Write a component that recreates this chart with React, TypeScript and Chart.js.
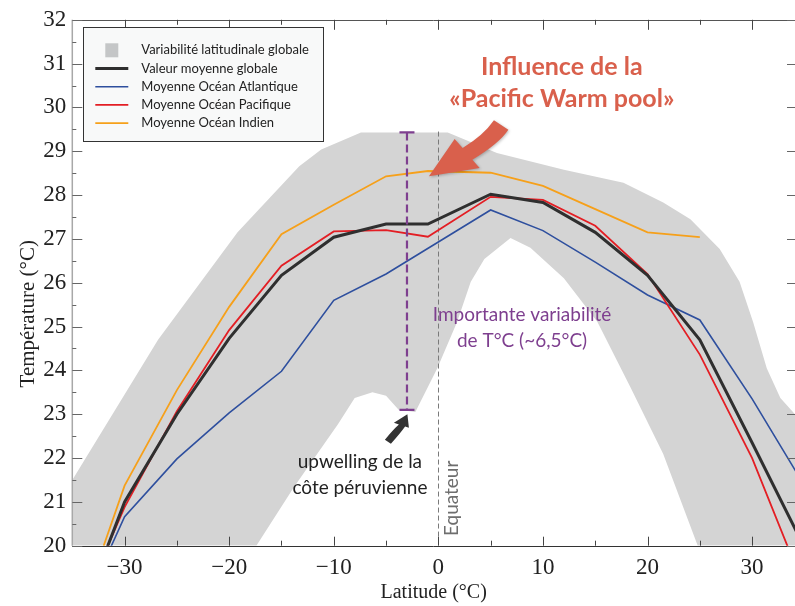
import React, { useEffect, useRef } from 'react';
import { Chart, registerables } from 'chart.js';

Chart.register(...registerables);

// ---------- data ----------
const LATITUDES = [-32, -30, -25, -20, -15, -10, -5, -1, 5, 10, 15, 20, 25, 30, 35];
const GLOBAL_MEAN = [19.75, 21.0, 23.0, 24.73, 26.17, 27.04, 27.34, 27.34, 28.02, 27.83, 27.15, 26.17, 24.7, 22.35, 19.96];
const ATLANTIC = [19.61, 20.66, 21.98, 23.03, 23.98, 25.6, 26.2, null, 27.66, 27.19, 26.47, 25.72, 25.15, 23.35, 21.37];
const PACIFIC = [19.78, 20.88, 23.07, 24.92, 26.39, 27.17, 27.2, 27.05, 27.96, 27.89, 27.3, 26.2, 24.36, 22.0, 19.03];
const INDIAN = [20.0, 21.37, 23.55, 25.45, 27.11, 27.78, 28.43, 28.55, 28.51, 28.21, 27.68, 27.15, 27.04, null, null];

const BAND_UPPER_LAT = [-36, -35, -26.8, -19.2, -13.3, -11.2, -7.4, 0.9, 5.6, 12.0, 17.7, 21.5, 24.1, 26.9, 28.8, 30.1, 31.4, 32.7, 34.1, 36];
const BAND_UPPER_T = [21.1, 21.5, 24.7, 27.15, 28.66, 29.04, 29.43, 29.43, 28.96, 28.58, 28.28, 27.83, 27.45, 26.77, 26.02, 25.1, 24.05, 23.37, 23.0, 22.7];
const BAND_LOWER_LAT = [-36, -17.4, -13.8, -9.6, -8.0, -6.3, -5.0, -3.8, -2.2, -0.1, 1.8, 3.1, 4.4, 6.9, 8.8, 12.0, 15.2, 18.4, 21.5, 24.8, 36];
const BAND_LOWER_T = [20, 20, 21.34, 22.77, 23.37, 23.5, 23.42, 23.1, 23.05, 24.05, 25.11, 26.02, 26.54, 27.02, 26.8, 26.1, 25.11, 23.6, 22.09, 20.0, 20];

const SERIES_LABELS = ['Valeur moyenne globale', 'Moyenne Océan Atlantique', 'Moyenne Océan Pacifique', 'Moyenne Océan Indien'];
const BAND_LABEL = 'Variabilité latitudinale globale';

const X_TICKS = [-30, -20, -10, 0, 10, 20, 30];
const Y_TICKS = [20, 21, 22, 23, 24, 25, 26, 27, 28, 29, 30, 31, 32];
const X_MIN = -35;
const X_MAX = 34.1;
const Y_MIN = 20;
const Y_MAX = 32;

const X_TITLE = 'Latitude (°C)';
const Y_TITLE = 'Température (°C)';

// annotations (data coordinates)
const WARM_POOL_LINES = ['Influence de la', '«Pacific Warm pool»'];
const WARM_POOL_POS = { lat: 11.8, t: [30.93, 30.2] };
const WARM_ARROW_TIP = { lat: -0.9, t: 28.43 };
const VAR_BAR = { lat: -3, top: 29.43, bottom: 23.1 };
const VAR_LINES = ['Importante variabilité', 'de T°C (~6,5°C)'];
const VAR_POS = { lat: 8.0, t: [25.27, 24.68] };
const UPW_LINES = ['upwelling de la', 'côte péruvienne'];
const UPW_POS = { lat: -7.5, t: [21.92, 21.33] };
const UPW_ARROW_TIP = { lat: -2.96, t: 23.0 };
const EQUATOR = { lat: 0, top: 29.45, label: 'Equateur', labelLat: 1.3, labelT: 21.08 };

const COLORS = {
  mean: '#2f2f2f',
  atl: '#2e4f9e',
  pac: '#e31e24',
  ind: '#f6a01a',
  band: '#d4d4d4',
  bandLegend: '#c4c6c7',
  warm: '#d9604c',
  purple: '#7e3f8f',
};

const fmtLat = (v: number) => (v < 0 ? '\u2212' + Math.abs(v) : String(v));
const pts = (xs: number[], ys: (number | null)[]) => xs.map((x, i) => ({ x, y: ys[i] }));

const SANS = 'Lato, "Noto Sans", sans-serif';
const SERIF = '"Liberation Serif", "DejaVu Serif", serif';

const drawArrow = (ctx: CanvasRenderingContext2D, tx: number, ty: number, p: number[][], color: string) => {
  // p: [wing1, join1, ctrl1, tail1, tail2, ctrl2, join2, wing2] offsets from tip
  ctx.beginPath();
  ctx.moveTo(tx, ty);
  ctx.lineTo(tx + p[0][0], ty + p[0][1]);
  ctx.lineTo(tx + p[1][0], ty + p[1][1]);
  ctx.quadraticCurveTo(tx + p[2][0], ty + p[2][1], tx + p[3][0], ty + p[3][1]);
  ctx.lineTo(tx + p[4][0], ty + p[4][1]);
  ctx.quadraticCurveTo(tx + p[5][0], ty + p[5][1], tx + p[6][0], ty + p[6][1]);
  ctx.lineTo(tx + p[7][0], ty + p[7][1]);
  ctx.closePath();
  ctx.fillStyle = color;
  ctx.fill();
};

const decorPlugin = {
  id: 'decor',
  afterDatasetDraw(chart: any, args: any) {
    if (args.index !== 0) return;
    const { ctx, scales: { x, y } } = chart;
    ctx.save();
    ctx.strokeStyle = '#7a7a7a';
    ctx.lineWidth = 1;
    ctx.setLineDash([5, 3]);
    const px = Math.round(x.getPixelForValue(EQUATOR.lat)) + 0.5;
    ctx.beginPath();
    ctx.moveTo(px, y.getPixelForValue(EQUATOR.top));
    ctx.lineTo(px, y.getPixelForValue(Y_MIN));
    ctx.stroke();
    ctx.restore();
  },
  afterDatasetsDraw(chart: any) {
    const { ctx, chartArea: a, scales: { x, y } } = chart;
    ctx.save();

    // frame
    ctx.setLineDash([]);
    ctx.lineWidth = 1;
    ctx.strokeStyle = '#555';
    ctx.beginPath();
    ctx.moveTo(a.left, Math.round(a.top) + 0.5);
    ctx.lineTo(a.right, Math.round(a.top) + 0.5);
    ctx.stroke();
    ctx.strokeStyle = '#333';
    ctx.beginPath();
    ctx.moveTo(a.left, Math.round(a.bottom) + 0.5);
    ctx.lineTo(a.right, Math.round(a.bottom) + 0.5);
    ctx.stroke();
    ctx.strokeStyle = '#a8a8a8';
    ctx.lineWidth = 1.5;
    ctx.beginPath();
    ctx.moveTo(a.left, a.top);
    ctx.lineTo(a.left, a.bottom);
    ctx.stroke();

    // inward ticks
    ctx.lineWidth = 1;
    ctx.strokeStyle = '#666';
    for (let v = Y_MIN; v <= Y_MAX; v += 0.5) {
      const py = Math.round(y.getPixelForValue(v)) + 0.5;
      const major = Number.isInteger(v);
      ctx.beginPath();
      ctx.moveTo(a.left, py);
      ctx.lineTo(a.left + (major ? 10 : 4), py);
      ctx.stroke();
      if (major) {
        ctx.beginPath();
        ctx.moveTo(a.right, py);
        ctx.lineTo(a.right - 8, py);
        ctx.stroke();
      }
    }
    ctx.strokeStyle = '#444';
    for (let v = -30; v <= 30; v += 5) {
      const px = Math.round(x.getPixelForValue(v)) + 0.5;
      const major = v % 10 === 0;
      ctx.beginPath();
      ctx.moveTo(px, a.bottom);
      ctx.lineTo(px, a.bottom - (major ? 9 : 5));
      ctx.stroke();
      ctx.beginPath();
      ctx.moveTo(px, a.top);
      ctx.lineTo(px, a.top + (major ? 10 : 5));
      ctx.stroke();
    }

    // purple variability bar
    const bx = x.getPixelForValue(VAR_BAR.lat);
    const bt = y.getPixelForValue(VAR_BAR.top);
    const bb = y.getPixelForValue(VAR_BAR.bottom);
    ctx.strokeStyle = COLORS.purple;
    ctx.lineWidth = 2.2;
    ctx.setLineDash([8, 4]);
    ctx.beginPath();
    ctx.moveTo(bx, bt);
    ctx.lineTo(bx, bb);
    ctx.stroke();
    ctx.setLineDash([]);
    ctx.beginPath();
    ctx.moveTo(bx - 7.5, bt);
    ctx.lineTo(bx + 7.5, bt);
    ctx.moveTo(bx - 7.5, bb);
    ctx.lineTo(bx + 7.5, bb);
    ctx.stroke();

    // big red arrow
    const wx = x.getPixelForValue(WARM_ARROW_TIP.lat);
    const wy = y.getPixelForValue(WARM_ARROW_TIP.t);
    ctx.save();
    ctx.shadowColor = 'rgba(0,0,0,0.25)';
    ctx.shadowBlur = 3;
    ctx.shadowOffsetX = 1;
    ctx.shadowOffsetY = 1;
    drawArrow(ctx, wx, wy, [[25.7, -37.3], [33.7, -28.3], [54.6, -40.9], [65, -56], [79.4, -46.6], [70.5, -33], [43.4, -16.6], [50.7, -8.3]], COLORS.warm);
    ctx.restore();

    // small dark arrow
    const ux = x.getPixelForValue(UPW_ARROW_TIP.lat);
    const uy = y.getPixelForValue(UPW_ARROW_TIP.t);
    drawArrow(ctx, ux, uy, [[-13.5, 8.5], [-8.5, 10.2], [-15, 16], [-22.5, 25.5], [-16.5, 29.5], [-7, 19], [-2.3, 12.3], [1.5, 13.5]], '#333');

    // texts
    ctx.textAlign = 'center';
    ctx.textBaseline = 'middle';
    ctx.fillStyle = COLORS.warm;
    ctx.font = `bold 25px ${SANS}`;
    WARM_POOL_LINES.forEach((s, i) => ctx.fillText(s, x.getPixelForValue(WARM_POOL_POS.lat), y.getPixelForValue(WARM_POOL_POS.t[i])));

    ctx.fillStyle = COLORS.purple;
    ctx.font = `19px ${SANS}`;
    VAR_LINES.forEach((s, i) => ctx.fillText(s, x.getPixelForValue(VAR_POS.lat), y.getPixelForValue(VAR_POS.t[i])));

    ctx.fillStyle = '#222';
    ctx.font = `19px ${SANS}`;
    UPW_LINES.forEach((s, i) => ctx.fillText(s, x.getPixelForValue(UPW_POS.lat), y.getPixelForValue(UPW_POS.t[i])));

    ctx.save();
    ctx.translate(x.getPixelForValue(EQUATOR.labelLat), y.getPixelForValue(EQUATOR.labelT));
    ctx.rotate(-Math.PI / 2);
    ctx.fillStyle = '#6e6e6e';
    ctx.font = `19px ${SANS}`;
    ctx.fillText(EQUATOR.label, 0, 0);
    ctx.restore();

    // y title
    ctx.save();
    ctx.translate(28, (a.top + a.bottom) / 2 + 31);
    ctx.rotate(-Math.PI / 2);
    ctx.fillStyle = '#222';
    ctx.font = `21px ${SERIF}`;
    ctx.fillText(Y_TITLE, 0, 0);
    ctx.restore();

    ctx.restore();
  },
  afterDraw(chart: any) {
    const { ctx, chartArea: a } = chart;
    const left = a.left + 11;
    const top = a.top + 7.5;
    const w = 240;
    const h = 114;
    ctx.save();
    ctx.fillStyle = '#f8f9f9';
    ctx.fillRect(left, top, w, h);
    ctx.strokeStyle = '#333';
    ctx.lineWidth = 1;
    ctx.strokeRect(Math.round(left) + 0.5, Math.round(top) + 0.5, w, h);
    ctx.font = `13px ${SANS}`;
    ctx.textAlign = 'left';
    ctx.textBaseline = 'middle';
    const items = chart.data.datasets.filter((d: any) => d.label);
    items.forEach((d: any, i: number) => {
      const ry = top + 23 + i * 18.2;
      if (d.isBand) {
        ctx.fillStyle = COLORS.bandLegend;
        ctx.fillRect(left + 22, ry - 7, 13, 14);
      } else {
        ctx.strokeStyle = d.borderColor;
        ctx.lineWidth = d.borderWidth;
        ctx.beginPath();
        ctx.moveTo(left + 12, ry);
        ctx.lineTo(left + 45, ry);
        ctx.stroke();
      }
      ctx.fillStyle = '#222';
      ctx.fillText(d.label, left + 58, ry);
    });
    ctx.restore();
  },
};

export default function App() {
  const ref = useRef<HTMLCanvasElement | null>(null);
  useEffect(() => {
    if (!ref.current) return;
    const chart = new Chart(ref.current, {
      type: 'line',
      data: {
        datasets: [
          {
            label: BAND_LABEL,
            isBand: true,
            data: pts(BAND_UPPER_LAT, BAND_UPPER_T),
            borderWidth: 0,
            borderColor: 'rgba(0,0,0,0)',
            backgroundColor: COLORS.band,
            fill: 5,
            pointRadius: 0,
            order: 10,
            clip: 0,
          } as any,
          { label: SERIES_LABELS[0], data: pts(LATITUDES, GLOBAL_MEAN), borderColor: COLORS.mean, borderWidth: 3, pointRadius: 0, order: 0, clip: 0, fill: false },
          { label: SERIES_LABELS[1], data: pts(LATITUDES, ATLANTIC), borderColor: COLORS.atl, borderWidth: 1.6, pointRadius: 0, order: 3, spanGaps: true, clip: 0, fill: false },
          { label: SERIES_LABELS[2], data: pts(LATITUDES, PACIFIC), borderColor: COLORS.pac, borderWidth: 1.8, pointRadius: 0, order: 1, clip: 0, fill: false },
          { label: SERIES_LABELS[3], data: pts(LATITUDES, INDIAN), borderColor: COLORS.ind, borderWidth: 1.8, pointRadius: 0, order: 2, clip: 0, fill: false },
          {
            data: pts(BAND_LOWER_LAT, BAND_LOWER_T),
            borderWidth: 0,
            borderColor: 'rgba(0,0,0,0)',
            pointRadius: 0,
            order: 9,
            clip: 0,
            fill: false,
          },
        ],
      },
      options: {
        responsive: false,
        animation: false,
        devicePixelRatio: 1,
        layout: { padding: { top: 15.8, right: 0, left: 0, bottom: 0 } },
        plugins: { legend: { display: false }, tooltip: { enabled: false } },
        elements: { line: { tension: 0 }, point: { radius: 0 } },
        scales: {
          x: {
            type: 'linear',
            min: X_MIN,
            max: X_MAX,
            grid: { display: false, drawTicks: false },
            border: { display: false },
            afterBuildTicks: (s: any) => { s.ticks = X_TICKS.map((v) => ({ value: v })); },
            afterFit: (s: any) => { s.height = 60.3; },
            ticks: {
              autoSkip: false,
              maxRotation: 0,
              padding: 8,
              color: '#222',
              font: { family: SERIF, size: 23 },
              callback: (v: any) => fmtLat(Number(v)),
            },
            title: { display: true, text: X_TITLE, color: '#222', font: { family: SERIF, size: 20 }, padding: { top: 0, bottom: 1 } },
          },
          y: {
            type: 'linear',
            min: Y_MIN,
            max: Y_MAX,
            grid: { display: false, drawTicks: false },
            border: { display: false },
            afterBuildTicks: (s: any) => { s.ticks = Y_TICKS.map((v) => ({ value: v })); },
            afterFit: (s: any) => { s.width = 72.3; },
            ticks: { autoSkip: false, padding: 6, color: '#222', font: { family: SERIF, size: 23 } },
          },
        },
      } as any,
      plugins: [decorPlugin as any],
    });
    return () => chart.destroy();
  }, []);
  return (
    <div style={{ position: 'fixed', left: 0, top: 0, width: 795, height: 606, background: '#fff' }}>
      <canvas ref={ref} width={795} height={606} style={{ display: 'block' }} />
    </div>
  );
}
